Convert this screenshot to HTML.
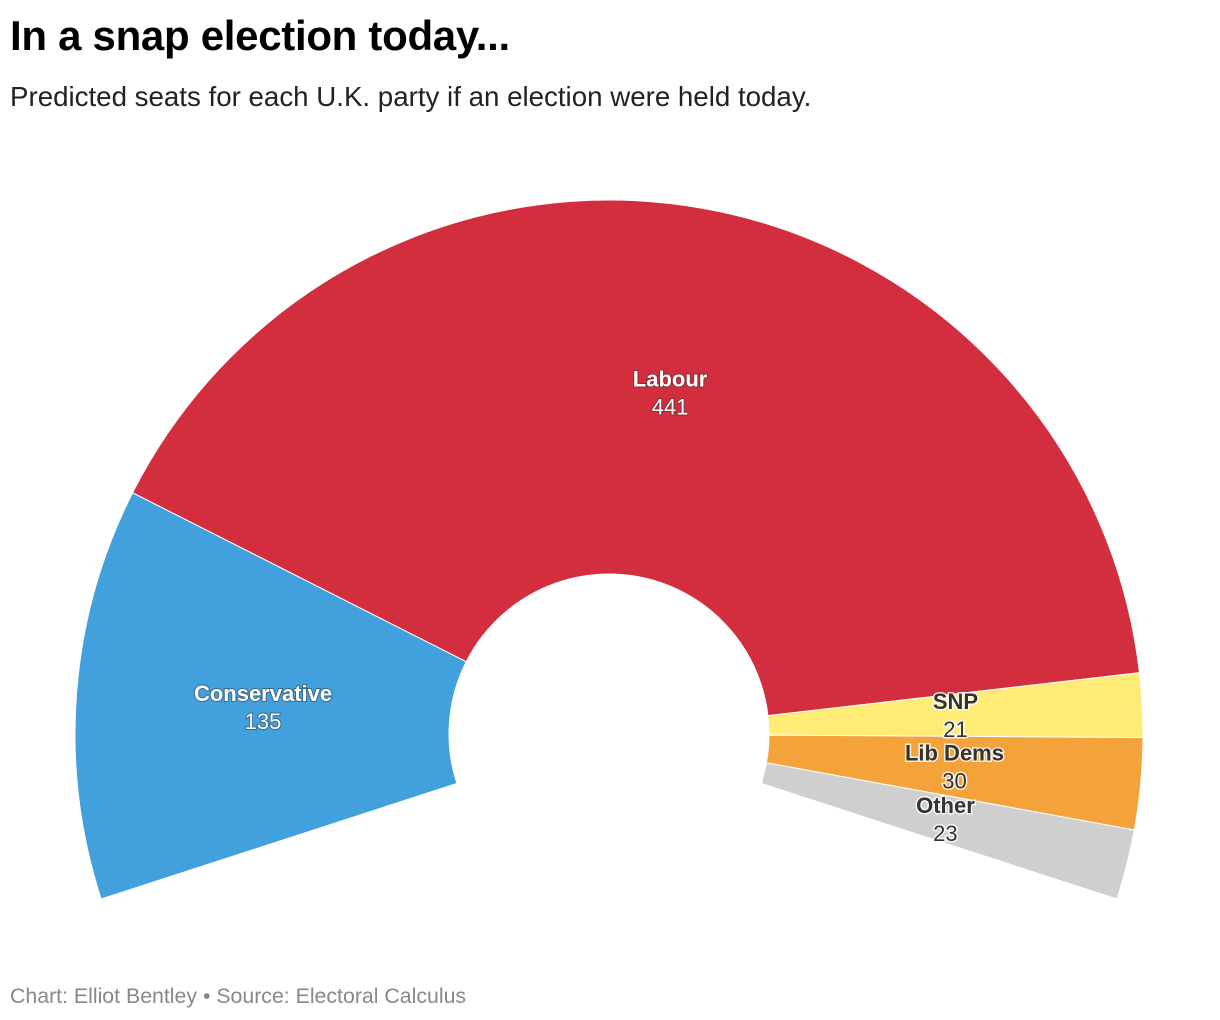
<!DOCTYPE html>
<html><head><meta charset="utf-8">
<style>
body{margin:0;background:#fff;font-family:"Liberation Sans",Arial,sans-serif;}
#wrap{position:relative;width:1220px;height:1020px;overflow:hidden;}
h1{position:absolute;left:10px;top:12px;margin:0;font-size:42px;font-weight:bold;color:#000;letter-spacing:-0.3px}
.sub{position:absolute;left:10px;top:81px;font-size:27.7px;color:#222}
.foot{position:absolute;left:10px;top:984px;font-size:21.3px;color:#888}
svg{position:absolute;left:0;top:0}
</style></head><body>
<div id="wrap">
<h1>In a snap election today...</h1>
<div class="sub">Predicted seats for each U.K. party if an election were held today.</div>
<svg id="chart" width="1220" height="1020"></svg>
<div class="foot">Chart: Elliot Bentley • Source: Electoral Calculus</div>
</div>
<script>
const parties = ["Conservative","Labour","SNP","Lib Dems","Other"];
const seats = [135,441,21,30,23];
const colors = ["#42a0dd","#d22e3e","#ffec77","#f4a23a","#cfcfcf"];
const ns="http://www.w3.org/2000/svg";
const svg=document.getElementById("chart");
const cx=609,cy=734,R=534,r=160,span=216,start=198;
const total=seats.reduce((a,b)=>a+b,0);
function pt(rad,deg){const a=deg*Math.PI/180;return [cx+rad*Math.cos(a),cy-rad*Math.sin(a)];}
let ang=start;
const labels=[];
seats.forEach((v,i)=>{
  const sweep=v/total*span;const a0=ang,a1=ang-sweep;
  const p0=pt(R,a0),p1=pt(R,a1),q1=pt(r,a1),q0=pt(r,a0);
  const large=sweep>180?1:0;
  const d=`M${p0[0]},${p0[1]} A${R},${R} 0 ${large} 1 ${p1[0]},${p1[1]} L${q1[0]},${q1[1]} A${r},${r} 0 ${large} 0 ${q0[0]},${q0[1]} Z`;
  const p=document.createElementNS(ns,"path");
  p.setAttribute("d",d);p.setAttribute("fill",colors[i]);p.setAttribute("stroke","#fff");p.setAttribute("stroke-width","1");
  
  
  svg.appendChild(p);
  labels.push([i,pt((R+r)/2,(a0+a1)/2)]);
  ang=a1;
});
labels.forEach(([i,c])=>{
  const dark=i>=2;
  const g=document.createElementNS(ns,"g");
  
  
  [[parties[i],-6,"bold"],[String(seats[i]),22,"normal"]].forEach(([t,dy,w])=>{
    const tx=document.createElementNS(ns,"text");
    tx.setAttribute("x",c[0]);tx.setAttribute("y",c[1]+dy);tx.setAttribute("text-anchor","middle");
    tx.setAttribute("font-size","22");tx.setAttribute("font-weight",w);
    tx.setAttribute("font-family","Liberation Sans, Arial, sans-serif");
    tx.setAttribute("fill",dark?"#333":"#fff");
    tx.setAttribute("stroke",dark?"#fff":"#333");tx.setAttribute("stroke-width",dark?"3":"2");
    tx.setAttribute("stroke-opacity",dark?"0.8":"0.5");
    tx.setAttribute("paint-order","stroke");
    tx.textContent=t;g.appendChild(tx);
  });
  svg.appendChild(g);
});
</script>
</body></html>
